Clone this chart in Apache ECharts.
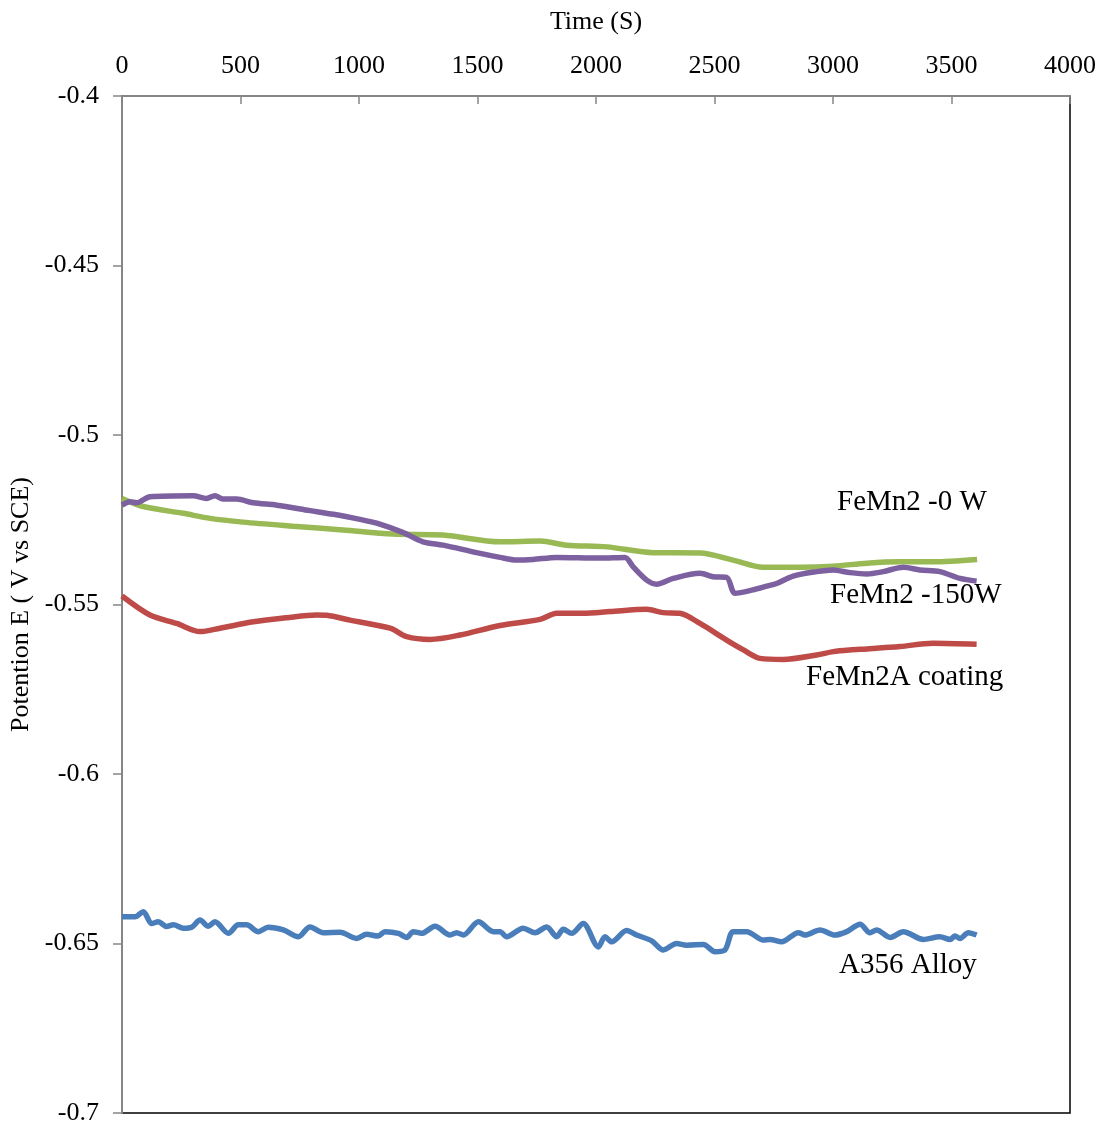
<!DOCTYPE html>
<html>
<head>
<meta charset="utf-8">
<title>Open circuit potential vs time</title>
<script src="https://cdn.jsdelivr.net/npm/echarts@6/dist/echarts.min.js"></script>
<style>
  html, body { margin: 0; padding: 0; background: #fff; }
  #chart { width: 1103px; height: 1125px; }
</style>
</head>
<body>
<div id="chart"></div>
<script>
// Time axis ticks (s) and potential axis ticks (V vs SCE)
var timeTicks = [0, 500, 1000, 1500, 2000, 2500, 3000, 3500, 4000];
var potentialTicks = [-0.4, -0.45, -0.5, -0.55, -0.6, -0.65, -0.7];

var seriesNames = ['A356 Alloy', 'FeMn2A coating', 'FeMn2 -0 W', 'FeMn2 -150W'];

// A356 Alloy: [time, potential]
var a356 = [
  [0, -0.6421], [55, -0.6421], [90, -0.6406], [125, -0.6441], [153, -0.6436], [188, -0.645],
  [217, -0.6445], [259, -0.6455], [294, -0.6452], [329, -0.6431], [364, -0.6449], [392, -0.6436],
  [449, -0.647], [491, -0.6445], [526, -0.6445], [575, -0.6465], [617, -0.6452], [681, -0.646],
  [744, -0.648], [793, -0.6451], [849, -0.6468], [920, -0.6467], [990, -0.6485], [1032, -0.6473],
  [1081, -0.6478], [1110, -0.6465], [1166, -0.647], [1201, -0.6482], [1229, -0.6465], [1264, -0.647],
  [1321, -0.6449], [1384, -0.6475], [1412, -0.6468], [1440, -0.6475], [1504, -0.6436], [1567, -0.6465],
  [1595, -0.6465], [1623, -0.648], [1693, -0.6455], [1743, -0.6468], [1792, -0.6451], [1834, -0.648],
  [1862, -0.6458], [1897, -0.647], [1946, -0.6441], [2010, -0.651], [2038, -0.648], [2066, -0.6495],
  [2129, -0.6462], [2171, -0.6475], [2235, -0.6492], [2284, -0.6519], [2340, -0.65], [2382, -0.6505],
  [2453, -0.6503], [2502, -0.6524], [2544, -0.6519], [2579, -0.6465], [2636, -0.6465], [2706, -0.649],
  [2734, -0.6488], [2783, -0.6495], [2854, -0.6468], [2882, -0.6475], [2945, -0.646], [3008, -0.6475],
  [3058, -0.6465], [3114, -0.6443], [3156, -0.6468], [3184, -0.646], [3241, -0.6482], [3297, -0.6465],
  [3381, -0.6488], [3451, -0.648], [3494, -0.6488], [3515, -0.6478], [3536, -0.6485], [3571, -0.6468],
  [3606, -0.6475]
];

// FeMn2A coating
var femn2aCoating = [
  [0, -0.5475], [118, -0.5531], [231, -0.5556], [329, -0.558], [413, -0.557], [554, -0.5551],
  [695, -0.5539], [821, -0.5531], [864, -0.5532], [962, -0.5546], [1131, -0.557], [1201, -0.5595],
  [1300, -0.5603], [1426, -0.559], [1595, -0.5562], [1764, -0.5544], [1834, -0.5526], [1945, -0.5526],
  [2059, -0.5521], [2214, -0.5514], [2283, -0.5524], [2354, -0.5526], [2439, -0.5556], [2551, -0.5605],
  [2622, -0.5634], [2692, -0.5659], [2790, -0.5662], [2931, -0.5649], [3001, -0.5639], [3072, -0.5634],
  [3143, -0.5631], [3283, -0.5624], [3422, -0.5614], [3606, -0.5617]
];

// FeMn2 -0 W
var femn2_0W = [
  [0, -0.5187], [90, -0.5211], [258, -0.5231], [372, -0.5246], [511, -0.5257], [722, -0.5269],
  [932, -0.528], [1143, -0.5292], [1354, -0.5295], [1595, -0.5315], [1764, -0.5313], [1876, -0.5325],
  [2046, -0.533], [2241, -0.5347], [2439, -0.5348], [2578, -0.5369], [2705, -0.539], [2861, -0.539],
  [3000, -0.5387], [3143, -0.5378], [3283, -0.5374], [3422, -0.5374], [3608, -0.5367]
];

// FeMn2 -150W
var femn2_150W = [
  [0, -0.5207], [34, -0.5197], [62, -0.52], [118, -0.5182], [300, -0.5179], [357, -0.5187],
  [392, -0.5179], [426, -0.5189], [484, -0.5189], [553, -0.52], [653, -0.5207], [793, -0.5223],
  [892, -0.5234], [1004, -0.5249], [1075, -0.526], [1187, -0.5288], [1270, -0.5315], [1355, -0.5325],
  [1496, -0.5347], [1595, -0.5361], [1665, -0.5369], [1735, -0.5367], [1834, -0.5361], [2017, -0.5363],
  [2122, -0.5361], [2157, -0.5389], [2214, -0.5428], [2256, -0.544], [2326, -0.5423], [2439, -0.5408],
  [2494, -0.5418], [2551, -0.542], [2587, -0.5467], [2662, -0.5457], [2720, -0.5446], [2762, -0.5438],
  [2832, -0.5416], [2931, -0.5403], [3000, -0.5398], [3072, -0.5406], [3143, -0.541], [3212, -0.5403],
  [3297, -0.539], [3367, -0.5398], [3451, -0.5403], [3536, -0.5423], [3606, -0.5431]
];

var seriesData = [a356, femn2aCoating, femn2_0W, femn2_150W];
var seriesColors = ['#4a7ebb', '#be4b48', '#98b954', '#7d60a0'];

var serif = '"Liberation Serif", "DejaVu Serif", serif';

var chart = echarts.init(document.getElementById('chart'), null, { renderer: 'canvas' });

chart.setOption({
  backgroundColor: '#ffffff',
  animation: false,
  grid: {
    left: 122, top: 96, right: 33, bottom: 12,
    outerBoundsMode: 'none',
    containLabel: false,
    show: true,
    borderColor: '#000000',
    borderWidth: 1.5,
    backgroundColor: 'transparent'
  },
  xAxis: {
    type: 'value',
    position: 'top',
    min: timeTicks[0],
    max: timeTicks[timeTicks.length - 1],
    interval: 500,
    name: 'Time (S)',
    nameLocation: 'middle',
    nameGap: 61,
    nameTextStyle: { fontFamily: serif, fontSize: 26, color: '#000' },
    axisLine: { show: true, onZero: false, lineStyle: { color: '#868686', width: 2 } },
    axisTick: { show: true, inside: true, length: 8, lineStyle: { color: '#868686', width: 1.5 } },
    axisLabel: {
      fontFamily: serif, fontSize: 26, color: '#000', margin: 17,
      formatter: function (v) { return String(v); }
    },
    splitLine: { show: false }
  },
  yAxis: {
    type: 'value',
    min: potentialTicks[potentialTicks.length - 1],
    max: potentialTicks[0],
    interval: 0.05,
    name: 'Potention E ( V vs SCE)',
    nameLocation: 'middle',
    nameGap: 86,
    nameTextStyle: { fontFamily: serif, fontSize: 26, color: '#000' },
    axisLine: { show: true, onZero: false, lineStyle: { color: '#868686', width: 2 } },
    axisTick: { show: true, inside: false, length: 9, lineStyle: { color: '#868686', width: 1.5 } },
    axisLabel: {
      fontFamily: serif, fontSize: 26, color: '#000', margin: 23,
      formatter: function (v) { return String(Math.round(v * 100) / 100); }
    },
    splitLine: { show: false }
  },
  series: seriesData.map(function (d, i) {
    return {
      name: seriesNames[i],
      type: 'line',
      data: d,
      smooth: 0.3,
      showSymbol: false,
      symbol: 'none',
      lineStyle: { color: seriesColors[i], width: 5.5 },
      itemStyle: { color: seriesColors[i] },
      z: 3
    };
  }),
  graphic: [
    { type: 'text', left: 837, top: 488, style: { text: 'FeMn2 -0 W', font: '29px ' + serif, fill: '#000' } },
    { type: 'text', left: 830, top: 581, style: { text: 'FeMn2 -150W', font: '29px ' + serif, fill: '#000' } },
    { type: 'text', left: 806, top: 663, style: { text: 'FeMn2A coating', font: '29px ' + serif, fill: '#000' } },
    { type: 'text', left: 839, top: 951, style: { text: 'A356 Alloy', font: '29px ' + serif, fill: '#000' } }
  ]
});
</script>
</body>
</html>
